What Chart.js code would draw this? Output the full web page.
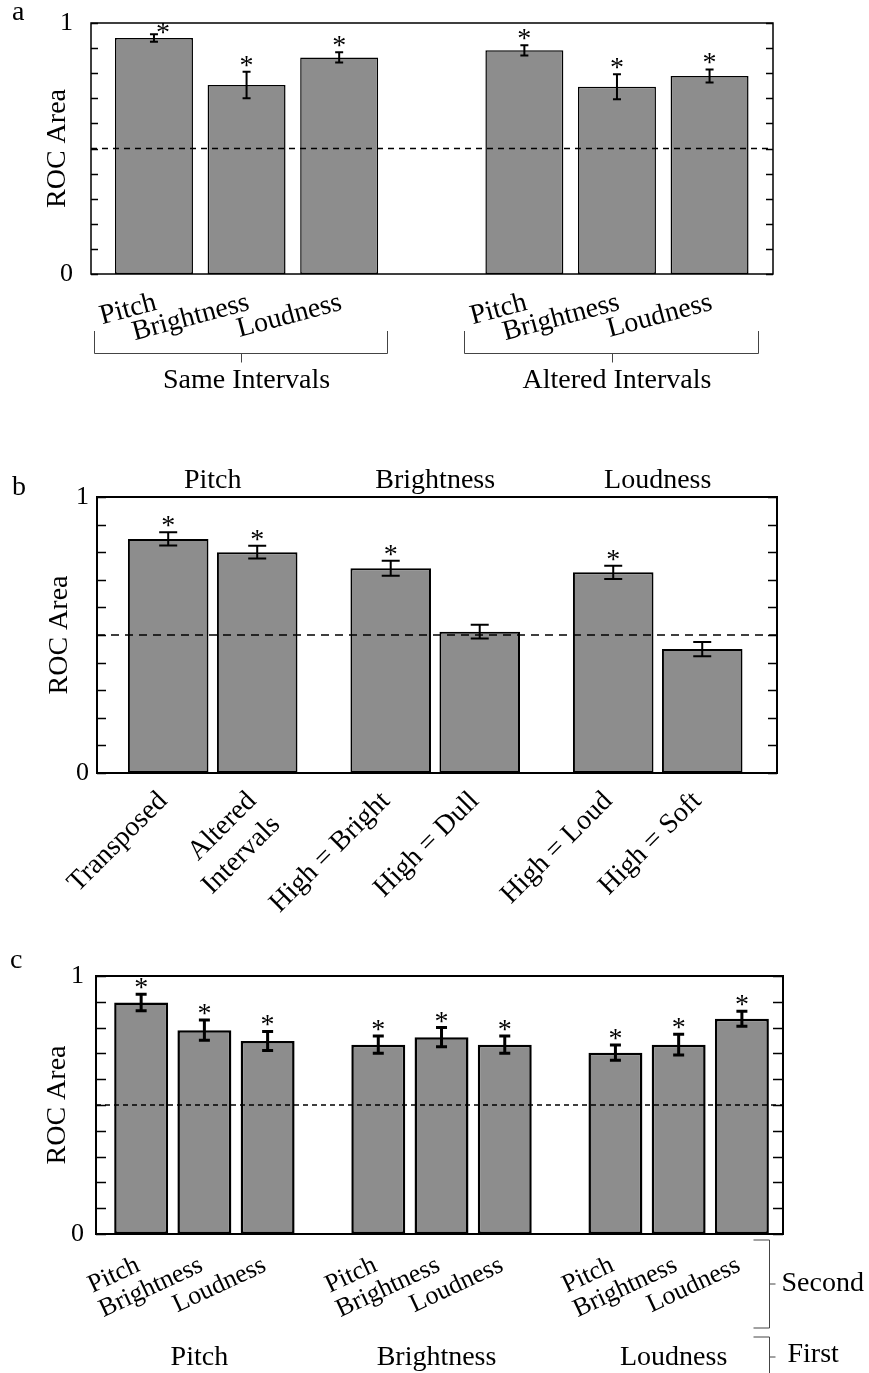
<!DOCTYPE html>
<html lang="en">
<head>
<meta charset="UTF-8">
<title>ROC Area by dimension</title>
<script src="https://cdn.jsdelivr.net/npm/chart.js"></script>
<style>
  body { margin: 0; background: #fff; }
  canvas { position: absolute; left: 0; }
</style>
</head>
<body>
<canvas id="chartA" width="869" height="430" style="top:0px"></canvas>
<canvas id="chartB" width="869" height="500" style="top:440px"></canvas>
<canvas id="chartC" width="869" height="433" style="top:940px"></canvas>
<script>
const FONT = "'Liberation Serif', 'Times New Roman', serif";
const BAR = '#8d8d8d';

// panel a
const aLabels = ['Pitch', 'Brightness', 'Loudness', 'Pitch', 'Brightness', 'Loudness'];
const aGroups = ['Same Intervals', 'Altered Intervals'];
const aGroupSizes = [3, 3];
const aValues = [0.94, 0.753, 0.863, 0.891, 0.746, 0.789];
const aErrors = [0.015, 0.053, 0.02, 0.02, 0.05, 0.026];
const aSignif = [1, 1, 1, 1, 1, 1];

// panel b
const bLabels = ['Transposed', ['Altered', 'Intervals'], 'High = Bright', 'High = Dull', 'High = Loud', 'High = Soft'];
const bGroups = ['Pitch', 'Brightness', 'Loudness'];
const bGroupSizes = [2, 2, 2];
const bValues = [0.848, 0.80, 0.742, 0.512, 0.727, 0.449];
const bErrors = [0.024, 0.023, 0.027, 0.025, 0.024, 0.026];
const bSignif = [1, 1, 1, 0, 1, 0];

// panel c (second dimension on the bars, first dimension per group)
const cLabels = ['Pitch', 'Brightness', 'Loudness', 'Pitch', 'Brightness', 'Loudness', 'Pitch', 'Brightness', 'Loudness'];
const cGroups = ['Pitch', 'Brightness', 'Loudness'];
const cGroupSizes = [3, 3, 3];
const cValues = [0.897, 0.79, 0.748, 0.734, 0.763, 0.734, 0.703, 0.734, 0.834];
const cErrors = [0.032, 0.039, 0.037, 0.033, 0.037, 0.033, 0.03, 0.04, 0.029];
const cSignif = [1, 1, 1, 1, 1, 1, 1, 1, 1];

const chance = 0.5;
const yTicks = [0, 0.1, 0.2, 0.3, 0.4, 0.5, 0.6, 0.7, 0.8, 0.9, 1];
const yTickLabels = ['0', '', '', '', '', '', '', '', '', '', '1'];

// x position of each bar: consecutive within a group, extra gap between groups
function positions(sizes, gap) {
  const xs = [];
  let x = 1;
  sizes.forEach(n => {
    for (let i = 0; i < n; i++) xs.push(x++);
    x += gap;
  });
  return xs;
}

function groupRanges(sizes) {
  const out = [];
  let s = 0;
  sizes.forEach(n => { out.push([s, s + n - 1]); s += n; });
  return out;
}

function makePanel(id, p) {
  const canvas = document.getElementById(id);
  const W = canvas.width, H = canvas.height;
  const xs = positions(p.sizes, p.gap);

  const extras = {
    id: 'extras' + id,
    afterDatasetsDraw(chart) {
      const { ctx, chartArea: a, scales: { x, y } } = chart;
      const meta = chart.getDatasetMeta(0);
      ctx.save();
      ctx.strokeStyle = '#000';

      // chance level
      const yc = y.getPixelForValue(chance);
      ctx.lineWidth = 1.5;
      ctx.setLineDash(p.dash);
      ctx.beginPath();
      ctx.moveTo(a.left, yc);
      ctx.lineTo(a.right, yc);
      ctx.stroke();
      ctx.setLineDash([]);

      // error bars and significance stars
      ctx.lineWidth = p.errWidth;
      ctx.fillStyle = '#000';
      ctx.font = '28px ' + FONT;
      ctx.textAlign = 'center';
      ctx.textBaseline = 'alphabetic';
      p.values.forEach((v, i) => {
        const bx = meta.data[i].x;
        const y1 = y.getPixelForValue(v + p.errors[i]);
        const y2 = y.getPixelForValue(v - p.errors[i]);
        ctx.beginPath();
        ctx.moveTo(bx, y1); ctx.lineTo(bx, y2);
        ctx.moveTo(bx - p.cap, y1); ctx.lineTo(bx + p.cap, y1);
        ctx.moveTo(bx - p.cap, y2); ctx.lineTo(bx + p.cap, y2);
        ctx.stroke();
        if (p.signif[i]) {
          let cy = y1 - 11, cx = bx;
          if (cy < a.top + 5) { cy = a.top + 5; cx += 9; }
          ctx.fillText('*', cx, cy + 13);
        }
      });

      // frame with inward ticks on both sides
      ctx.lineWidth = p.frame;
      ctx.strokeRect(a.left, a.top, a.right - a.left, a.bottom - a.top);
      ctx.beginPath();
      y.ticks.forEach(t => {
        const ty = Math.round(y.getPixelForValue(t.value)) + 0.5;
        ctx.moveTo(a.left, ty); ctx.lineTo(a.left + p.tick, ty);
        ctx.moveTo(a.right, ty); ctx.lineTo(a.right - p.tick, ty);
      });
      ctx.lineWidth = 1.5;
      ctx.stroke();
      ctx.restore();
    },
    afterDraw(chart) {
      const { ctx } = chart;
      ctx.save();
      ctx.fillStyle = '#000';
      ctx.font = '28px ' + FONT;
      ctx.textAlign = 'left';
      ctx.textBaseline = 'alphabetic';
      ctx.fillText(p.letter, p.letterPos[0], p.letterPos[1]);
      p.decorate(chart, xs, groupRanges(p.sizes));
      ctx.restore();
    }
  };

  return new Chart(canvas, {
    type: 'bar',
    data: {
      datasets: [{
        data: p.values.map((v, i) => ({ x: xs[i], y: v })),
        backgroundColor: BAR,
        borderColor: '#000',
        borderWidth: p.barBorder,
        borderSkipped: false,
        barPercentage: p.barPct,
        categoryPercentage: 1
      }]
    },
    options: {
      responsive: false,
      animation: false,
      layout: { padding: { left: 0, top: p.top, right: W - p.right, bottom: 0 } },
      plugins: { legend: { display: false }, tooltip: { enabled: false } },
      scales: {
        x: {
          type: 'linear',
          offset: false,
          min: xs[0] - p.padL,
          max: xs[xs.length - 1] + p.padR,
          grid: { display: false, drawTicks: false },
          border: { display: false },
          afterBuildTicks: s => { s.ticks = xs.map(v => ({ value: v })); },
          afterFit: s => { s.height = H - p.bottom; s.paddingLeft = 0; s.paddingRight = 0; },
          ticks: {
            autoSkip: false,
            minRotation: p.rot,
            maxRotation: p.rot,
            padding: p.tickPad,
            labelOffset: p.labelOffset,
            color: '#000',
            font: { family: FONT, size: p.labelSize },
            callback: (v, i) => p.labels[i]
          }
        },
        y: {
          min: yTicks[0],
          max: yTicks[yTicks.length - 1],
          grid: { display: false, drawTicks: false },
          border: { display: false },
          afterBuildTicks: s => { s.ticks = yTicks.map(v => ({ value: v })); },
          afterFit: s => { s.width = p.left; s.paddingTop = 0; s.paddingBottom = 0; },
          ticks: {
            autoSkip: false,
            padding: p.yPad,
            color: '#000',
            font: { family: FONT, size: 26 },
            callback: (v, i) => yTickLabels[i]
          },
          title: {
            display: true,
            text: 'ROC Area',
            color: '#000',
            font: { family: FONT, size: 28 },
            padding: { top: p.titleX - 16.8, bottom: 0 }
          }
        }
      }
    },
    plugins: [extras]
  });
}

makePanel('chartA', {
  labels: aLabels, values: aValues, errors: aErrors, signif: aSignif,
  sizes: aGroupSizes, gap: 1, padL: 0.68, padR: 0.685, barPct: 0.842,
  top: 23, bottom: 274, left: 91, right: 773,
  rot: 15, tickPad: 12, labelOffset: 2, labelSize: 28, yPad: 18, titleX: 58,
  barBorder: 1.5, errWidth: 2, cap: 4, frame: 1.5, tick: 7, dash: [6, 5],
  letter: 'a', letterPos: [12, 20],
  decorate(chart, xs, ranges) {
    const { ctx, chartArea: a, scales: { x } } = chart;
    ctx.strokeStyle = '#444';
    ctx.lineWidth = 1;
    ctx.textAlign = 'center';
    ranges.forEach(([f, l], g) => {
      const x1 = Math.round(x.getPixelForValue(xs[f]) - 60) + 0.5;
      const x2 = Math.round(x.getPixelForValue(xs[l]) + 48) + 0.5;
      const yl = a.bottom + 79.5;
      const xm = Math.round((x1 + x2) / 2) + 0.5;
      ctx.beginPath();
      ctx.moveTo(x1, a.bottom + 57); ctx.lineTo(x1, yl); ctx.lineTo(x2, yl); ctx.lineTo(x2, a.bottom + 57);
      ctx.moveTo(xm, yl); ctx.lineTo(xm, yl + 9);
      ctx.stroke();
      ctx.fillText(aGroups[g], (x.getPixelForValue(xs[f]) + x.getPixelForValue(xs[l])) / 2, a.bottom + 114);
    });
  }
});

makePanel('chartB', {
  labels: bLabels, values: bValues, errors: bErrors, signif: bSignif,
  sizes: bGroupSizes, gap: 0.5, padL: 0.8, padR: 0.84, barPct: 0.905,
  top: 57, bottom: 333, left: 97, right: 777,
  rot: 45, tickPad: 12, labelOffset: -5, labelSize: 28, yPad: 8, titleX: 60,
  barBorder: 2, errWidth: 2, cap: 9, frame: 2, tick: 9, dash: [8, 6],
  letter: 'b', letterPos: [12, 55],
  decorate(chart, xs, ranges) {
    const { ctx, chartArea: a, scales: { x } } = chart;
    ctx.textAlign = 'center';
    ranges.forEach(([f, l], g) => {
      const cx = (x.getPixelForValue(xs[f]) + x.getPixelForValue(xs[l])) / 2;
      ctx.fillText(bGroups[g], cx, a.top - 9);
    });
  }
});

makePanel('chartC', {
  labels: cLabels, values: cValues, errors: cErrors, signif: cSignif,
  sizes: cGroupSizes, gap: 0.75, padL: 0.714, padR: 0.65, barPct: 0.853,
  top: 36, bottom: 294, left: 96, right: 783,
  rot: 25, tickPad: 16, labelOffset: -3, labelSize: 26, yPad: 12, titleX: 58,
  barBorder: 2.5, errWidth: 3, cap: 5.5, frame: 2, tick: 10, dash: [5, 4],
  letter: 'c', letterPos: [10, 28],
  decorate(chart, xs, ranges) {
    const { ctx, chartArea: a, scales: { x } } = chart;
    ctx.textAlign = 'center';
    ranges.forEach(([f, l], g) => {
      const cx = (x.getPixelForValue(xs[f]) + x.getPixelForValue(xs[l])) / 2;
      ctx.fillText(cGroups[g], cx - 5, a.bottom + 131);
    });
    // brackets naming which dimension changed first / second
    const bx = Math.round(a.right - 14) + 0.5;
    ctx.strokeStyle = '#444';
    ctx.lineWidth = 1;
    ctx.beginPath();
    const s1 = a.bottom + 6, s2 = a.bottom + 94, sm = (s1 + s2) / 2;
    ctx.moveTo(bx - 16, s1); ctx.lineTo(bx, s1); ctx.lineTo(bx, s2); ctx.lineTo(bx - 16, s2);
    ctx.moveTo(bx, sm); ctx.lineTo(bx + 6, sm);
    const f1 = a.bottom + 103, f2 = a.bottom + 143, fm = (f1 + f2) / 2;
    ctx.moveTo(bx - 16, f1); ctx.lineTo(bx, f1); ctx.lineTo(bx, f2);
    ctx.moveTo(bx, fm); ctx.lineTo(bx + 6, fm);
    ctx.stroke();
    ctx.textAlign = 'left';
    ctx.textBaseline = 'middle';
    ctx.fillText('Second', bx + 12, sm);
    ctx.fillText('First', bx + 18, fm - 2);
  }
});
</script>
</body>
</html>
